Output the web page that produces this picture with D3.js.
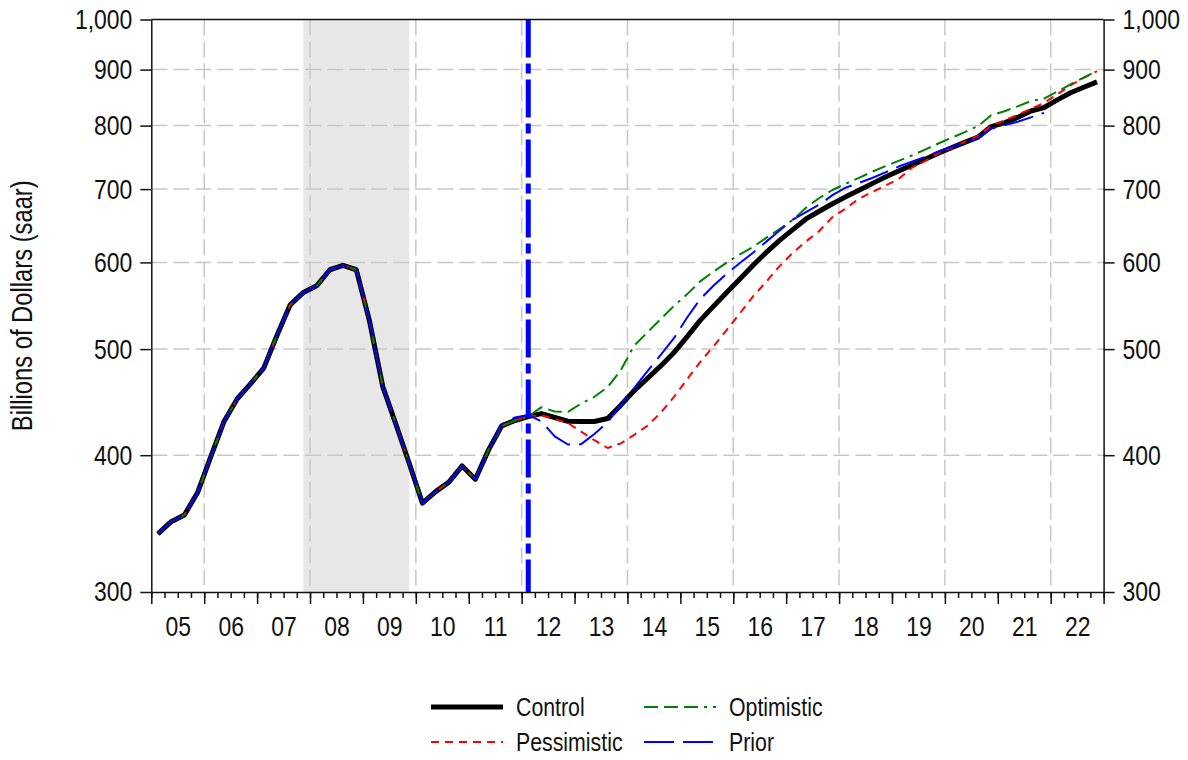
<!DOCTYPE html>
<html lang="en">
  <head>
    <meta charset="UTF-8" />
    <title>Scenario forecasts</title>
    <script src="https://d3js.org/d3.v7.min.js"></script>
    <style>
      body {
        margin: 0;
        background: #fff;
      }
      .chart text {
        font-family: "Liberation Sans", Arial, sans-serif;
        fill: #111;
      }
    </style>
  </head>
  <body>
    <div class="chart"></div>

    <script>
      // quarterly values, billions of dollars (saar)
      var yearLabels = ["05", "06", "07", "08", "09", "10", "11", "12", "13", "14", "15", "16", "17", "18", "19", "20", "21", "22"];
      var yTicks = [300, 400, 500, 600, 700, 800, 900, 1000];
      var seriesNames = ["Control", "Pessimistic", "Optimistic", "Prior"];

      // 2005Q1 - 2012Q1, shared by every scenario
      var actual = [
        339.0, 347.8, 352.8, 369.8,
        398.9, 429.4, 450.4, 464.8,
        480.4, 514.5, 548.8, 563.3,
        571.2, 590.8, 596.2, 590.8,
        530.2, 462.1, 426.7, 393.3,
        361.6, 370.5, 378.0, 391.1,
        380.3, 404.5, 425.5, 430.3,
        433.9
      ];

      // 2012Q2 - 2022Q4
      var control = [
        436.6, 433.0, 429.6,
        429.4, 429.4, 432.1, 444.4,
        458.0, 470.0, 482.4, 496.1,
        513.1, 531.1, 547.0, 563.2,
        579.4, 596.5, 612.8, 628.5,
        642.8, 657.4, 668.1, 678.7,
        688.7, 698.2, 708.1, 718.1,
        727.3, 736.2, 745.3, 754.8,
        763.6, 772.3, 780.8, 798.4,
        804.6, 813.9, 824.9, 831.0,
        844.5, 857.3, 867.3, 877.1
      ];
      var pessimistic = [
        435.1, 431.6, 428.0,
        420.3, 412.8, 406.1, 410.1,
        417.4, 425.5, 437.2, 451.9,
        469.1, 486.6, 502.8, 520.3,
        539.0, 558.7, 576.2, 595.3,
        612.3, 627.1, 641.0, 660.0,
        672.0, 686.0, 695.7, 705.1,
        715.0, 732.2, 742.6, 755.0,
        763.0, 773.0, 783.0, 800.0,
        808.7, 818.4, 828.8, 839.3,
        854.2, 870.5, 884.7, 897.0
      ];
      var optimistic = [
        442.5, 438.5, 438.2,
        445.9, 452.3, 461.5, 478.4,
        503.5, 517.8, 532.4, 547.4,
        561.0, 576.6, 588.4, 599.7,
        610.3, 619.9, 631.8, 643.7,
        656.0, 673.0, 687.0, 698.7,
        707.9, 716.8, 726.0, 734.6,
        742.9, 751.2, 760.7, 770.4,
        779.7, 789.1, 799.2, 817.6,
        824.6, 833.1, 842.4, 846.9,
        859.4, 872.5, 885.0, 897.3
      ];
      // prior forecast, 2011Q3 - 2021Q4
      var prior = [
        427.0, 433.0, 435.4,
        429.5, 416.1, 409.1,
        409.4, 418.3, 428.6, 444.6,
        460.5, 477.0, 493.7, 511.3,
        534.1, 555.4, 571.3, 585.7,
        599.3, 612.4, 626.8, 641.5,
        656.5, 667.0, 677.5, 691.1,
        702.2, 709.2, 716.5, 725.0,
        734.0, 741.7, 749.0, 757.5,
        764.8, 771.7, 778.4, 795.0,
        800.7, 806.5, 814.0, 821.8
      ];

      var recession = [2007.875, 2009.875];
      var forecastStart = 2012.125;

      var margin = { top: 19.5, right: 84.4, bottom: 168, left: 151.3 };
      var width = 1188 - margin.left - margin.right;
      var height = 760 - margin.top - margin.bottom;

      var svgContainer = d3
        .select(".chart")
        .append("svg")
        .attr("width", 1188)
        .attr("height", 760);

      var svg = svgContainer
        .append("g")
        .attr("transform", "translate(" + margin.left + ", " + margin.top + ")");

      var xScale = d3.scaleLinear().domain([2005, 2023]).range([0, width]);
      var yScale = d3.scaleLog().domain([300, 1000]).range([height, 0]);

      // quarter midpoints
      function qTime(i) {
        return 2005 + (i + 0.5) / 4;
      }

      // no narrow font installed: squeeze glyphs around the text anchor
      function squeeze(sel) {
        sel.each(function () {
          var t = d3.select(this);
          var ax = +t.attr("x") || 0;
          t.attr("transform", "translate(" + ax + ",0) scale(0.82,1) translate(" + -ax + ",0)");
        });
      }

      // recession shading
      svg
        .append("rect")
        .attr("x", xScale(recession[0]))
        .attr("y", 0)
        .attr("width", xScale(recession[1]) - xScale(recession[0]))
        .attr("height", height)
        .attr("fill", "#e7e7e7");

      // grid
      svg
        .selectAll(".vgrid")
        .data(d3.range(2006, 2023, 2))
        .enter()
        .append("line")
        .attr("x1", (d) => xScale(d))
        .attr("x2", (d) => xScale(d))
        .attr("y1", 0)
        .attr("y2", height)
        .attr("stroke", "#c8c8c8")
        .attr("stroke-width", 1.5)
        .attr("stroke-dasharray", "16,6");

      svg
        .selectAll(".hgrid")
        .data(yTicks.slice(1, -1))
        .enter()
        .append("line")
        .attr("x1", 0)
        .attr("x2", width)
        .attr("y1", (d) => yScale(d))
        .attr("y2", (d) => yScale(d))
        .attr("stroke", "#c8c8c8")
        .attr("stroke-width", 1.5)
        .attr("stroke-dasharray", "16,6");

      var styles = {
        Control: { color: "#000000", width: 5, dash: null },
        Pessimistic: { color: "#ff0000", width: 2, dash: "8,6" },
        Optimistic: { color: "#008000", width: 2, dash: "14,6,14,6,14,6,3,6" },
        Prior: { color: "#0000ff", width: 2, dash: "30,9" }
      };

      var dataSet = [
        ["Control", actual.concat(control)],
        ["Pessimistic", actual.concat(pessimistic)],
        ["Optimistic", actual.concat(optimistic)],
        ["Prior", actual.slice(0, 26).concat(prior)]
      ];

      var line = d3
        .line()
        .x((d, i) => xScale(qTime(i)))
        .y((d) => yScale(d));

      svg
        .selectAll(".series")
        .data(dataSet)
        .enter()
        .append("path")
        .attr("fill", "none")
        .attr("stroke", (d) => styles[d[0]].color)
        .attr("stroke-width", (d) => styles[d[0]].width)
        .attr("stroke-dasharray", (d) => styles[d[0]].dash)
        .attr("stroke-linejoin", "round")
        .attr("d", (d) => line(d[1]));

      // forecast start marker
      svg
        .append("line")
        .attr("x1", xScale(forecastStart))
        .attr("x2", xScale(forecastStart))
        .attr("y1", 0)
        .attr("y2", height)
        .attr("stroke", "#0000ff")
        .attr("stroke-width", 5)
        .attr("stroke-dasharray", "38,6,10,6");

      // axes
      function styleAxis(g) {
        g.selectAll("path, line").attr("stroke", "#111").attr("stroke-width", 1.5);
        g.selectAll("text").attr("font-size", 28).attr("fill", "#111").call(squeeze);
      }

      var xMinor = d3
        .axisBottom(xScale)
        .tickValues(d3.range(2005, 2023.01, 0.25))
        .tickSize(6)
        .tickSizeOuter(0)
        .tickFormat("");
      svg.append("g").attr("transform", `translate(0, ${height})`).call(xMinor).call(styleAxis);

      var xMajor = d3
        .axisBottom(xScale)
        .tickValues(d3.range(2005, 2024))
        .tickSize(12)
        .tickFormat("");
      svg
        .append("g")
        .attr("transform", `translate(0, ${height})`)
        .call(xMajor)
        .call(styleAxis)
        .call((g) => g.select(".domain").remove());

      var xLabels = d3
        .axisBottom(xScale)
        .tickValues(yearLabels.map((d, i) => 2005.5 + i))
        .tickSize(0)
        .tickPadding(24)
        .tickFormat((d, i) => yearLabels[i]);
      svg
        .append("g")
        .attr("transform", `translate(0, ${height})`)
        .call(xLabels)
        .call(styleAxis)
        .call((g) => g.select(".domain").remove());

      var yLeft = d3.axisLeft(yScale).tickValues(yTicks).tickFormat(d3.format(",")).tickSize(11).tickPadding(8).tickSizeOuter(0);
      svg.append("g").call(yLeft).call(styleAxis);

      var yRight = d3.axisRight(yScale).tickValues(yTicks).tickFormat(d3.format(",")).tickSize(11).tickPadding(8).tickSizeOuter(0);
      svg.append("g").attr("transform", `translate(${width}, 0)`).call(yRight).call(styleAxis);

      svg
        .append("line")
        .attr("x1", 0)
        .attr("x2", width)
        .attr("y1", 0)
        .attr("y2", 0)
        .attr("stroke", "#111")
        .attr("stroke-width", 1.5);

      svgContainer
        .append("text")
        .attr("transform", "translate(32, " + (margin.top + height / 2) + ") rotate(-90) scale(0.82,1)")
        .attr("text-anchor", "middle")
        .attr("font-size", 29)
        .text("Billions of Dollars (saar)");

      // legend, two columns
      var legend = svgContainer.append("g");
      var legendPos = [
        [431, 707],
        [431, 742],
        [644, 707],
        [644, 742]
      ];
      seriesNames.forEach(function (name, i) {
        var p = legendPos[i];
        var s = styles[name];
        legend
          .append("line")
          .attr("x1", p[0])
          .attr("x2", p[0] + 72)
          .attr("y1", p[1])
          .attr("y2", p[1])
          .attr("stroke", s.color)
          .attr("stroke-width", s.width)
          .attr("stroke-dasharray", s.dash);
        legend
          .append("text")
          .attr("x", p[0] + 85)
          .attr("y", p[1])
          .attr("dy", "0.35em")
          .attr("font-size", 26)
          .call(squeeze)
          .text(name);
      });
    </script>
  </body>
</html>
